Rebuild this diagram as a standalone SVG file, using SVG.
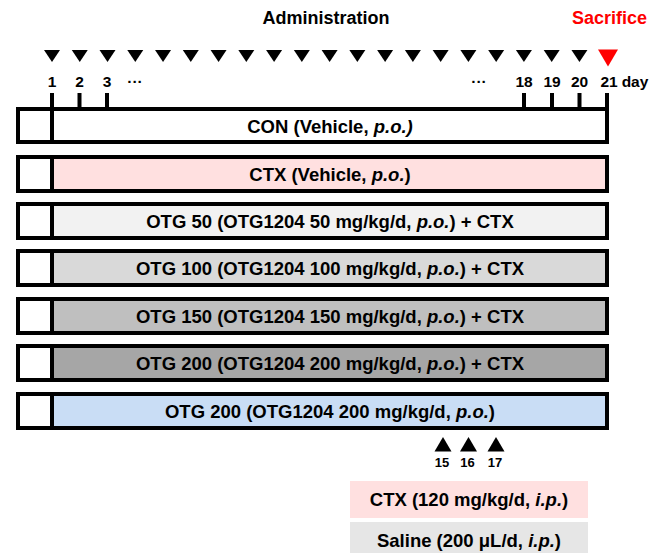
<svg xmlns="http://www.w3.org/2000/svg" width="650" height="553" viewBox="0 0 650 553">
<style>
text{font-family:"Liberation Sans",Arial,sans-serif;font-weight:bold;fill:#000}
.t{font-size:18px}
.lbl{font-size:18.5px;text-anchor:middle}
.day{font-size:15.5px;text-anchor:middle}
.sm{font-size:13px;text-anchor:middle}
.it{font-style:italic}
.bar{stroke:#000;stroke-width:4}
.sq{fill:#fff;stroke:#000;stroke-width:4}
.tick{stroke:#000;stroke-width:4}
</style>
<defs>
<path id="dn" d="M-8,0 L8,0 L0,12 Z" fill="#000"/>
<path id="up" d="M-8.5,14.5 L8.5,14.5 L0,0 Z" fill="#000"/>
</defs>
<g id="header">
<text class="t" x="326" y="24" text-anchor="middle">Administration</text>
<text class="t" x="572" y="24" style="fill:#ff0000">Sacrifice</text>
</g>
<g id="timeline">
<use href="#dn" x="52" y="50"/><use href="#dn" x="79.76" y="50"/><use href="#dn" x="107.52" y="50"/><use href="#dn" x="135.28" y="50"/><use href="#dn" x="163.04" y="50"/><use href="#dn" x="190.8" y="50"/><use href="#dn" x="218.56" y="50"/><use href="#dn" x="246.32" y="50"/><use href="#dn" x="274.08" y="50"/><use href="#dn" x="301.84" y="50"/><use href="#dn" x="329.6" y="50"/><use href="#dn" x="357.36" y="50"/><use href="#dn" x="385.12" y="50"/><use href="#dn" x="412.88" y="50"/><use href="#dn" x="440.64" y="50"/><use href="#dn" x="468.4" y="50"/><use href="#dn" x="496.16" y="50"/><use href="#dn" x="523.92" y="50"/><use href="#dn" x="551.68" y="50"/><use href="#dn" x="579.44" y="50"/>
<path d="M598,49.5 L618,49.5 L608,66.5 Z" fill="#ff0000"/>
<text class="day" x="52" y="87">1</text>
<text class="day" x="79.5" y="87">2</text>
<text class="day" x="107" y="87">3</text>
<text class="day" x="135" y="87">···</text>
<text class="day" x="479" y="87">···</text>
<text class="day" x="524" y="87">18</text>
<text class="day" x="552" y="87">19</text>
<text class="day" x="579.5" y="87">20</text>
<text class="day" x="609" y="87">21</text>
<text class="day" x="635" y="87">day</text>
<line class="tick" x1="52" y1="93" x2="52" y2="110"/>
<line class="tick" x1="79.5" y1="93" x2="79.5" y2="110"/>
<line class="tick" x1="107" y1="93" x2="107" y2="110"/>
<line class="tick" x1="524" y1="93" x2="524" y2="110"/>
<line class="tick" x1="552" y1="93" x2="552" y2="110"/>
<line class="tick" x1="579.5" y1="93" x2="579.5" y2="110"/>
<line class="tick" x1="607" y1="93" x2="607" y2="110"/>
</g>
<g id="con">
<rect class="bar" x="18" y="109" width="589" height="33" fill="#ffffff"/>
<rect class="sq" x="18" y="109" width="34" height="33"/>
<text class="lbl" x="330" y="132.5">CON (Vehicle, <tspan class="it">p.o.)</tspan></text>
</g>
<g id="ctx">
<rect class="bar" x="18" y="157" width="589" height="34" fill="#ffe0e0"/>
<rect class="sq" x="18" y="157" width="34" height="34"/>
<text class="lbl" x="330" y="180.5">CTX (Vehicle, <tspan class="it">p.o.</tspan>)</text>
</g>
<g id="otg50">
<rect class="bar" x="18" y="204" width="589" height="34" fill="#f2f2f2"/>
<rect class="sq" x="18" y="204" width="34" height="34"/>
<text class="lbl" x="330" y="227.5">OTG 50 (OTG1204 50 mg/kg/d, <tspan class="it">p.o.</tspan>) + CTX</text>
</g>
<g id="otg100">
<rect class="bar" x="18" y="251" width="589" height="34" fill="#d9d9d9"/>
<rect class="sq" x="18" y="251" width="34" height="34"/>
<text class="lbl" x="330" y="274.5">OTG 100 (OTG1204 100 mg/kg/d, <tspan class="it">p.o.</tspan>) + CTX</text>
</g>
<g id="otg150">
<rect class="bar" x="18" y="299" width="589" height="34" fill="#bfbfbf"/>
<rect class="sq" x="18" y="299" width="34" height="34"/>
<text class="lbl" x="330" y="322.5">OTG 150 (OTG1204 150 mg/kg/d, <tspan class="it">p.o.</tspan>) + CTX</text>
</g>
<g id="otg200ctx">
<rect class="bar" x="18" y="346" width="589" height="34" fill="#a6a6a6"/>
<rect class="sq" x="18" y="346" width="34" height="34"/>
<text class="lbl" x="330" y="369.5">OTG 200 (OTG1204 200 mg/kg/d, <tspan class="it">p.o.</tspan>) + CTX</text>
</g>
<g id="otg200">
<rect class="bar" x="18" y="394" width="589" height="34" fill="#c9ddf5"/>
<rect class="sq" x="18" y="394" width="34" height="34"/>
<text class="lbl" x="330" y="417.5">OTG 200 (OTG1204 200 mg/kg/d, <tspan class="it">p.o.</tspan>)</text>
</g>
<g id="injections">
<use href="#up" x="443" y="437"/>
<use href="#up" x="468.5" y="437"/>
<use href="#up" x="496" y="437"/>
<text class="sm" x="442" y="467">15</text>
<text class="sm" x="467.5" y="467">16</text>
<text class="sm" x="495" y="467">17</text>
</g>
<g id="legend-ctx">
<rect x="350" y="481" width="238" height="37" fill="#ffe0e0"/>
<text class="lbl" x="469" y="506">CTX (120 mg/kg/d, <tspan class="it">i.p.</tspan>)</text>
</g>
<g id="legend-saline">
<rect x="350" y="522" width="238" height="31" fill="#e6e6e6"/>
<text class="lbl" x="469" y="547">Saline (200 μL/d, <tspan class="it">i.p.</tspan>)</text>
</g>
</svg>
